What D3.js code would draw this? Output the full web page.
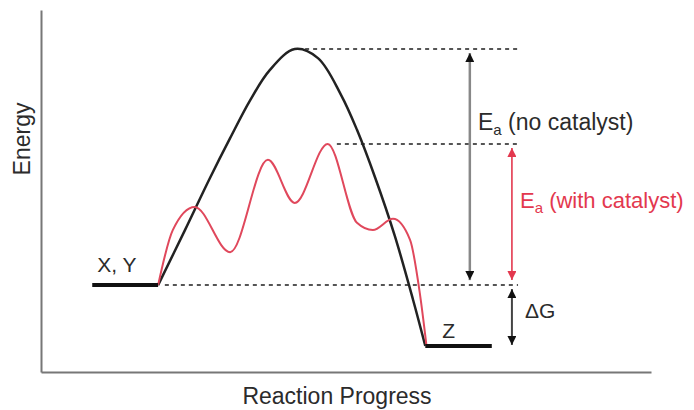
<!DOCTYPE html>
<html><head><meta charset="utf-8">
<script src="https://cdn.jsdelivr.net/npm/d3@7"></script>
<style>body{margin:0;background:#fff}svg{display:block}text{font-family:"Liberation Sans",Arial,sans-serif}</style>
</head><body><svg id="c" width="694" height="410"></svg>
<script>
// Data (reaction progress 0-100, energy 0-100)
const uncatalyzed = [[19.2,24.0],[23.6,39.2],[27.7,53.6],[31.0,64.6],[34.3,75.1],[37.5,83.4],[41.6,89.2],[45.4,86.7],[49.2,76.5],[51.8,66.9],[54.8,53.6],[58.0,37.6],[61.0,19.9],[63.0,7.2]];
const catalyzed = [[19.2,24.0],[21.6,39.2],[25.2,45.6],[31.0,33.1],[37.2,58.6],[41.6,46.7],[47.0,63.0],[51.8,41.2],[54.4,39.2],[57.7,42.3],[60.5,36.5],[62.1,21.8],[63.2,7.2]];
const reactant = {label:"X, Y", x0:8.4, x1:19.2, energy:24.0};
const product = {label:"Z", x0:63.0, x1:73.9, energy:7.2};
const levels = [{energy:89.2, x0:43.3}, {energy:63.0, x0:48.5}, {energy:24.0, x0:20.3}];
const levelEnd = 78.2;
const arrows = [
  {x:70.3, from:89.2, to:24.0, kind:"black"},
  {x:77.2, from:63.0, to:24.0, kind:"red"},
  {x:77.2, from:24.0, to:7.2, kind:"dg"}
];
const xTitle = "Reaction Progress", yTitle = "Energy";

const svg = d3.select("#c");
const x = d3.scaleLinear().domain([0,100]).range([41,651]);
const y = d3.scaleLinear().domain([0,100]).range([372,10]);
const RED = "#e3384e", INK = "#2b2b2b";

// axes
svg.append("g").attr("transform",`translate(0,${y(0)})`)
  .call(d3.axisBottom(x).ticks(0).tickSizeOuter(0))
  .call(g=>g.select(".domain").attr("stroke","#777").attr("stroke-width",2));
svg.append("g").attr("transform",`translate(${x(0)},0)`)
  .call(d3.axisLeft(y).ticks(0).tickSizeOuter(0))
  .call(g=>g.select(".domain").attr("stroke","#777").attr("stroke-width",2));

// dotted levels
svg.selectAll(".lvl").data(levels).join("line")
  .attr("x1",d=>x(d.x0)).attr("x2",x(levelEnd))
  .attr("y1",d=>y(d.energy)).attr("y2",d=>y(d.energy))
  .attr("stroke","#555").attr("stroke-width",2).attr("stroke-dasharray","4,4");

// curves
const lineB = d3.line().x(d=>x(d[0])).y(d=>y(d[1])).curve(d3.curveCatmullRom.alpha(0.5));
const lineR = d3.line().x(d=>x(d[0])).y(d=>y(d[1])).curve(d3.curveMonotoneX);
svg.append("path").attr("d",lineB(uncatalyzed)).attr("fill","none").attr("stroke","#222").attr("stroke-width",2.5);
svg.append("path").attr("d",lineR(catalyzed)).attr("fill","none").attr("stroke","#e0485c").attr("stroke-width",2);

// plateaus
[reactant,product].forEach(p=>{
  svg.append("line").attr("x1",x(p.x0)).attr("x2",x(p.x1)).attr("y1",y(p.energy)).attr("y2",y(p.energy))
    .attr("stroke","#111").attr("stroke-width",4);
});
svg.append("text").attr("x",x(reactant.x0)+5).attr("y",y(reactant.energy)-13).attr("font-size",21).attr("fill",INK).text(reactant.label);
svg.append("text").attr("x",x(product.x0)+17).attr("y",y(product.energy)-8).attr("font-size",21).attr("fill",INK).text(product.label);

// arrow markers
const defs = svg.append("defs");
[["mk-black","#111"],["mk-red",RED],["mk-dg","#111"]].forEach(([id,c])=>{
  defs.append("marker").attr("id",id).attr("viewBox","0 0 10 10").attr("refX",10).attr("refY",5)
    .attr("markerWidth",12).attr("markerHeight",9).attr("markerUnits","userSpaceOnUse")
    .attr("orient","auto-start-reverse")
    .append("path").attr("d","M0,0L10,5L0,10Z").attr("fill",c);
});
const shaft = {black:["#888",2.5], red:[RED,1.6], dg:["#444",2]};
arrows.forEach(a=>{
  const top = y(a.from), bot = y(a.to);
  const gapT = 4, gapB = a.kind==="dg"?1:5;
  svg.append("line").attr("x1",x(a.x)).attr("x2",x(a.x)).attr("y1",top+gapT).attr("y2",bot-gapB)
    .attr("stroke",shaft[a.kind][0]).attr("stroke-width",shaft[a.kind][1])
    .attr("marker-start",`url(#mk-${a.kind})`).attr("marker-end",`url(#mk-${a.kind})`);
});

// labels
const lab1 = svg.append("text").attr("x",478).attr("y",130).attr("font-size",23).attr("fill",INK);
lab1.append("tspan").text("E"); lab1.append("tspan").attr("font-size",15).attr("dy",5).text("a");
lab1.append("tspan").attr("dy",-5).text(" (no catalyst)");
const lab2 = svg.append("text").attr("x",520).attr("y",208).attr("font-size",22).attr("fill",RED);
lab2.append("tspan").text("E"); lab2.append("tspan").attr("font-size",15).attr("dy",5).text("a");
lab2.append("tspan").attr("dy",-5).text(" (with catalyst)");
svg.append("text").attr("x",525).attr("y",318).attr("font-size",21).attr("fill",INK).text("ΔG");

svg.append("text").attr("x",337).attr("y",404).attr("text-anchor","middle").attr("font-size",23).attr("fill",INK).text(xTitle);
svg.append("text").attr("transform","translate(30,139) rotate(-90)").attr("text-anchor","middle").attr("font-size",23).attr("fill",INK).text(yTitle);
</script></body></html>
